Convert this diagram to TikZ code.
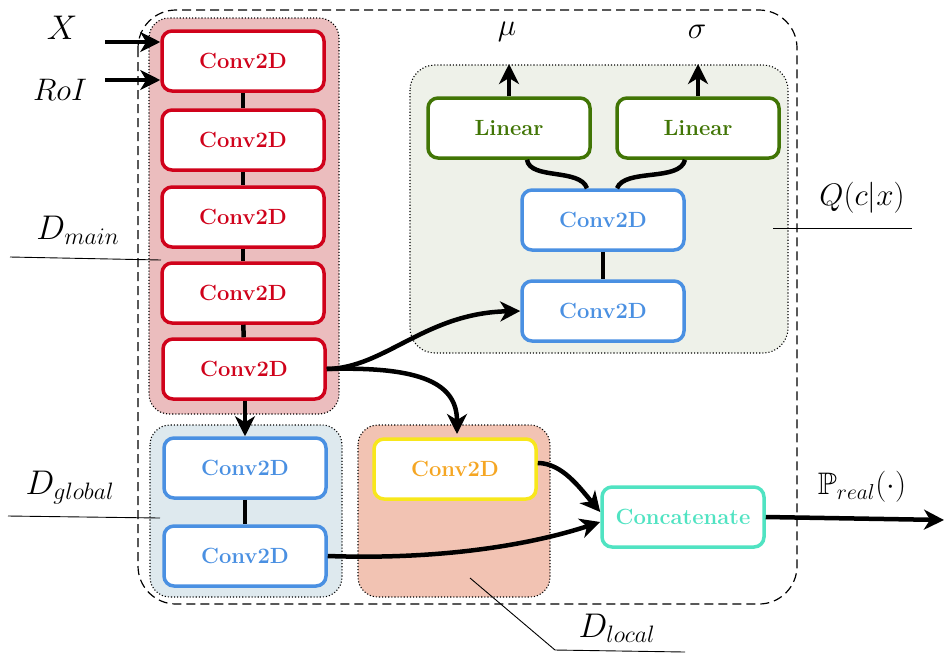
\documentclass[tikz,border=0pt]{standalone}
\usepackage{amssymb}
\usetikzlibrary{arrows.meta}
\definecolor{cred}{HTML}{D0021B}
\definecolor{cblue}{HTML}{4A90E2}
\definecolor{cgreen}{HTML}{417505}
\definecolor{cyellow}{HTML}{F8E71C}
\definecolor{corange}{HTML}{F5A623}
\definecolor{cteal}{HTML}{50E3C2}
\definecolor{bgred}{HTML}{EBBDBE}
\definecolor{bgblue}{HTML}{DEE9EE}
\definecolor{bgsal}{HTML}{F2C3B3}
\definecolor{bgq}{HTML}{EEF1E9}
\begin{document}
\begin{tikzpicture}[x=1pt,y=-1pt,
  layer/.style={draw, line width=3.5pt, rounded corners=10pt, fill=white,
    minimum width=162pt, minimum height=60pt, inner sep=0pt,
    font=\fontsize{22}{26}\selectfont\bfseries},
  redbox/.style={layer, draw=cred, text=cred},
  bluebox/.style={layer, draw=cblue, text=cblue},
  greenbox/.style={layer, draw=cgreen, text=cgreen},
  yellowbox/.style={layer, draw=cyellow, text=corange},
  tealbox/.style={layer, draw=cteal, text=cteal},
  group/.style={dotted, line width=1.1pt, rounded corners=20pt},
  conn/.style={line width=4.5pt},
  arr/.style={line width=4.5pt, -{Stealth[length=20pt,width=20pt,inset=6pt]}},
  biglab/.style={font=\fontsize{20.74}{24}\selectfont, inner sep=0pt, scale=1.65},
  midlab/.style={font=\fontsize{20.74}{24}\selectfont, inner sep=0pt, scale=1.5},
  thin/.style={line width=0.9pt}
]
\useasboundingbox (0,0) rectangle (944,657);
% outer dashed frame
\draw[line width=1.2pt, dash pattern=on 9pt off 5pt, rounded corners=38pt] (138,10) rectangle (797,604);
% group backgrounds
\draw[group, fill=bgred] (149,18) rectangle (339,414);
\draw[group, fill=bgblue] (150,425) rectangle (342,597);
\draw[group, fill=bgsal] (358,425) rectangle (550,597);
\draw[group, fill=bgq, rounded corners=25pt] (410,65) rectangle (788,353);
% main column
\node[redbox] (r1) at (243,61) {Conv2D};
\node[redbox] (r2) at (243,140) {Conv2D};
\node[redbox] (r3) at (243,217) {Conv2D};
\node[redbox] (r4) at (243,293) {Conv2D};
\node[redbox] (r5) at (244,369) {Conv2D};
% global
\node[bluebox] (g1) at (245,468) {Conv2D};
\node[bluebox] (g2) at (245,556) {Conv2D};
% local
\node[yellowbox] (y1) at (455,469) {Conv2D};
% Q branch
\node[bluebox] (q1) at (603,220) {Conv2D};
\node[bluebox] (q2) at (603,311) {Conv2D};
\node[greenbox] (l1) at (509,128) {Linear};
\node[greenbox] (l2) at (698,128) {Linear};
% concat
\node[tealbox] (cc) at (683,517) {Concatenate};
% labels
\node[biglab] (lx) at (62,28) {$X$};
\node[midlab] (lroi) at (60,90) {$RoI$};
\node[biglab] (ldm) at (78,230) {$D_{main}$};
\node[biglab] (ldg) at (70,488) {$D_{global}$};
\node[biglab] (ldl) at (617,628) {$D_{local}$};
\node[midlab] (lmu) at (507,32) {$\mu$};
\node[midlab] (lsig) at (697,32) {$\sigma$};
\node[midlab] (lq) at (862,198) {$Q(c|x)$};
\node[midlab] (lp) at (862,487) {$\mathbb{P}_{real}(\cdot)$};
% vertical links
\draw[conn] (r1) -- (r2);
\draw[conn] (r2) -- (r3);
\draw[conn] (r3) -- (r4);
\draw[conn] (r4) -- (r5);
\draw[arr] (r5.south -| g1.north) -- (g1.north);
\draw[conn] (g1) -- (g2);
\draw[conn] (q1) -- (q2);
% inputs
\coordinate (xin) at (105,42);
\coordinate (roin) at (105,80);
\draw[arr] (xin) -- (xin -| r1.west);
\draw[arr] (roin) -- (roin -| r1.west);
% curves from r5
\draw[arr] (r5.east) .. controls (385,368) and (425,313) .. (q2.west);
\coordinate (lin) at (457,434);
\draw[arr] (r5.east) .. controls (425,366) and (457,385) .. (lin);
% Q heads
\draw[conn] ([xshift=-16pt]q1.north) .. controls (580,168) and (530,180) .. ([xshift=18pt]l1.south);
\draw[conn] ([xshift=14pt]q1.north) .. controls (625,168) and (680,182) .. ([xshift=-13pt]l2.south);
\draw[arr] (l1.north) -- (l1.north |- 0,64);
\draw[arr] (l2.north) -- (l2.north |- 0,64);
% into concat
\draw[arr] ([yshift=6pt]y1.east) .. controls (562,463) and (580,488) .. ([yshift=5pt]cc.west);
\draw[arr] (g2.east) .. controls (440,560) and (530,545) .. ([yshift=-5pt]cc.west);
\coordinate (outp) at (944,520);
\draw[arr] (cc.east) -- (outp);
% pointer lines
\coordinate (dm0) at (10,257);
\coordinate (dm1) at (161,260);
\draw[thin] (dm0) -- (dm1);
\coordinate (dg0) at (8,516);
\coordinate (dg1) at (160,518);
\draw[thin] (dg0) -- (dg1);
\coordinate (dq0) at (773,228);
\coordinate (dq1) at (912,228);
\draw[thin] (dq0) -- (dq1);
\coordinate (dl0) at (470,578);
\coordinate (dl1) at (555,650);
\coordinate (dl2) at (685,652);
\draw[thin] (dl0) -- (dl1) -- (dl2);
\end{tikzpicture}
\end{document}
